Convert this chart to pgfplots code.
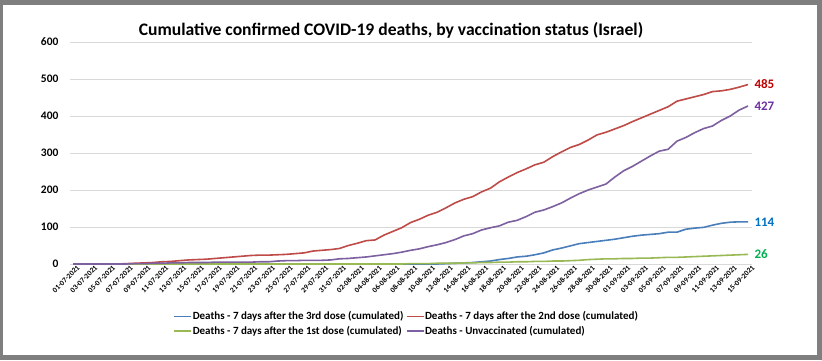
\documentclass[border=0pt]{standalone}
\usepackage{pgfplots}
\pgfplotsset{compat=1.18}
\usepackage{pgfplotstable}
\usepackage{fontspec}
\setmainfont{Carlito}
\definecolor{cblue}{HTML}{4A7EBB}
\definecolor{cred}{HTML}{BE4B48}
\definecolor{cgreen}{HTML}{98B954}
\definecolor{cpurple}{HTML}{7D60A0}
\definecolor{tblue}{HTML}{0070C0}
\definecolor{tred}{HTML}{C00000}
\definecolor{tgreen}{HTML}{00B050}
\definecolor{tpurple}{HTML}{7030A0}
\definecolor{gridc}{HTML}{D9D9D9}
\definecolor{framec}{HTML}{7F7F7F}
\pgfplotstableread{
i blue red green purple
0 0 0 0 0
1 0 0 0 0
2 0 0 0 0
3 0 0 0 0
4 0 0 0 0
5 0 0 0 0
6 0 1 0 0
7 0 2 0 1
8 0 3 0 1
9 0 4 0 2
10 0 6 0 2
11 0 7 0 3
12 0 9 0 3
13 0 11 0 4
14 0 12 0 4
15 0 13 0 4
16 0 15 0 5
17 0 17 0 5
18 0 19 0 5
19 0 21 0 5
20 0 23 0 5
21 0 24 0 6
22 0 24 0 6
23 0 25 0 8
24 0 26 0 9
25 0 28 0 9
26 0 30 0 10
27 0 35 0 10
28 0 37 0 10
29 0 39 0 11
30 0 42 0 14
31 0 50 0 15
32 0 56 0 17
33 0 63 0 19
34 0 65 0 22
35 0 78 0 25
36 0 88 0 28
37 0 98 0 32
38 0 112 1 37
39 0 121 1 41
40 0 132 1 47
41 0 140 2 52
42 1 152 2 58
43 2 165 2 66
44 3 175 3 76
45 4 182 3 82
46 6 195 4 92
47 8 205 4 98
48 12 222 5 103
49 15 235 5 113
50 19 247 6 118
51 21 257 6 128
52 25 268 7 140
53 30 275 7 146
54 38 290 8 155
55 43 303 8 165
56 49 315 9 178
57 55 323 10 190
58 58 335 12 200
59 61 349 13 208
60 64 356 14 216
61 67 365 14 235
62 71 374 15 252
63 75 385 15 264
64 78 395 16 278
65 80 405 16 292
66 82 415 17 305
67 86 425 18 310
68 86 440 18 332
69 94 446 19 342
70 97 452 20 355
71 99 458 21 366
72 105 466 22 373
73 110 468 23 388
74 113 472 24 400
75 114 478 25 416
76 114 485 26 427
}\deaths
\begin{document}
\begin{tikzpicture}
\useasboundingbox (0,0) rectangle (822pt,360pt);
\fill[framec] (0,0) rectangle (822pt,360pt);
\fill[white] (3pt,5pt) rectangle (817pt,355pt);
\node[font=\bfseries\fontsize{17.6}{21}\selectfont] at (391pt,330pt) {Cumulative confirmed COVID-19 deaths, by vaccination status (Israel)};
\begin{axis}[
  at={(70pt,96pt)}, anchor=south west,
  scale only axis, width=682pt, height=222pt,
  xmin=-0.35, xmax=76.45, ymin=0, ymax=600,
  ytick={0,100,...,600},
  xtick={0,2,...,76},
  xticklabels={01-07-2021,03-07-2021,05-07-2021,07-07-2021,09-07-2021,11-07-2021,13-07-2021,15-07-2021,17-07-2021,19-07-2021,21-07-2021,23-07-2021,25-07-2021,27-07-2021,29-07-2021,31-07-2021,02-08-2021,04-08-2021,06-08-2021,08-08-2021,10-08-2021,12-08-2021,14-08-2021,16-08-2021,18-08-2021,20-08-2021,22-08-2021,24-08-2021,26-08-2021,28-08-2021,30-08-2021,01-09-2021,03-09-2021,05-09-2021,07-09-2021,09-09-2021,11-09-2021,13-09-2021,15-09-2021},
  /pgf/number format/assume math mode=true,
  yticklabel style={font=\bfseries\fontsize{11.5}{13}\selectfont, xshift=-8pt},
  xticklabel style={font=\bfseries\fontsize{7.5}{9}\selectfont, rotate=45, anchor=north east, inner sep=1pt, xshift=3pt, yshift=-2pt},
  major tick length=0pt,
  ymajorgrids, grid style={gridc, line width=0.9pt},
  axis line style={draw=none},
  clip=false,
  legend columns=2,
  legend style={at={(0.4927,-0.205)}, anchor=north, draw=none, fill=none,
    font=\bfseries\fontsize{11}{13}\selectfont,
    /tikz/every even column/.append style={column sep=2pt},
    nodes={inner xsep=0.5pt},
    row sep=1pt, inner sep=0pt},
  legend cell align=left,
  legend image code/.code={\draw[#1, line width=1.6pt] (0pt,0pt) -- (17pt,0pt);},
]
\addplot[cblue, line width=1.6pt] table[x=i, y=blue] {\deaths};
\addlegendentry{Deaths - 7 days after the 3rd dose (cumulated)}
\addplot[cred, line width=1.6pt] table[x=i, y=red] {\deaths};
\addlegendentry{Deaths - 7 days after the 2nd dose (cumulated)}
\addplot[cgreen, line width=1.6pt] table[x=i, y=green] {\deaths};
\addlegendentry{Deaths - 7 days after the 1st dose (cumulated)}
\addplot[cpurple, line width=1.6pt] table[x=i, y=purple] {\deaths};
\addlegendentry{Deaths - Unvaccinated (cumulated)}
\node[anchor=west, text=tred, font=\bfseries\fontsize{13}{15}\selectfont] at (axis cs:76,485) {\hspace{3pt}485};
\node[anchor=west, text=tpurple, font=\bfseries\fontsize{13}{15}\selectfont] at (axis cs:76,427) {\hspace{3pt}427};
\node[anchor=west, text=tblue, font=\bfseries\fontsize{13}{15}\selectfont] at (axis cs:76,114) {\hspace{3pt}114};
\node[anchor=west, text=tgreen, font=\bfseries\fontsize{13}{15}\selectfont] at (axis cs:76,26) {\hspace{3pt}26};
\end{axis}
\end{tikzpicture}
\end{document}
